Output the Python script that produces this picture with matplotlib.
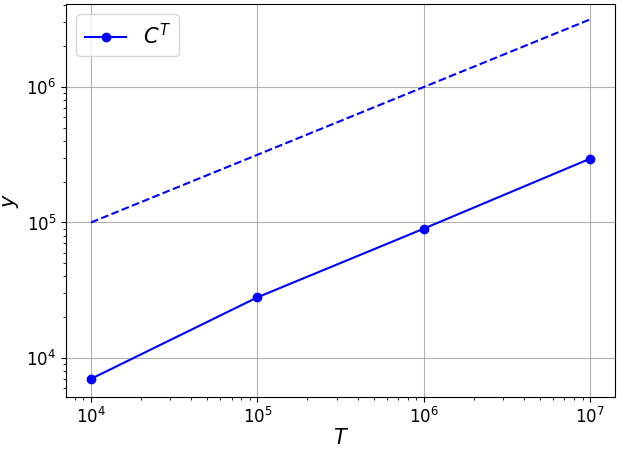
import matplotlib
matplotlib.use("Agg")
import matplotlib.pyplot as plt

T = [1e4, 1e5, 1e6, 1e7]
C_T = [7000, 28000, 90000, 296000]
ref_y = [1e5, 3.16e5, 1e6, 3.16e6]

fig, ax = plt.subplots(figsize=(6.17, 4.49), dpi=100)
ax.loglog(T, C_T, 'o-', color='blue', label=r'$C^T$')
ax.loglog(T, ref_y, '--', color='blue')
ax.set_ylim(5150, 4.1e6)
ax.grid(True, which='major')
ax.set_xlabel(r'$T$', fontsize=15, labelpad=1)
ax.set_ylabel(r'$y$', fontsize=15)
ax.tick_params(labelsize=12)
ax.legend(fontsize=15, loc='upper left')
fig.subplots_adjust(left=0.107, right=0.997, bottom=0.116, top=0.991)
fig.savefig('out.png', dpi=100)
